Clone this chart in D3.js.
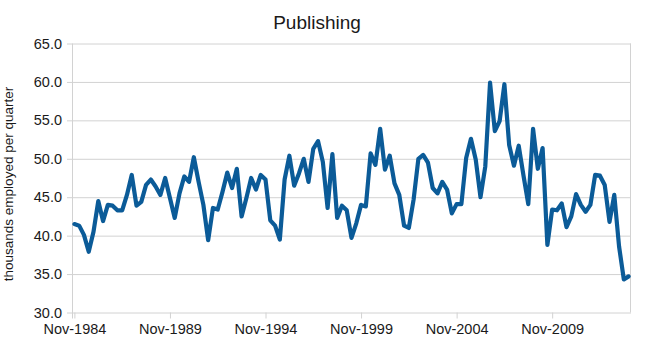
<!DOCTYPE html>
<html>
<head>
<meta charset="utf-8">
<script src="https://cdn.jsdelivr.net/npm/d3@7/dist/d3.min.js"></script>
<style>
  html, body { margin: 0; padding: 0; background: #ffffff; }
  svg { display: block; font-family: "Liberation Sans", Arial, sans-serif; }
</style>
</head>
<body>
<svg id="chart" width="650" height="355"></svg>
<script>
// ---- data (quarterly, starting Nov-1984) ----
const title = "Publishing";
const yAxisTitle = "thousands employed per quarter";
const values = [
  41.5, 41.3, 40.1, 37.9, 40.5, 44.5, 41.9, 44.0, 43.9, 43.3,
  43.3, 45.3, 47.9, 43.9, 44.4, 46.6, 47.3, 46.4, 45.3, 47.5,
  44.9, 42.3, 45.5, 47.7, 47.0, 50.2, 47.0, 44.0, 39.4, 43.6,
  43.4, 45.7, 48.2, 46.2, 48.7, 42.5, 44.9, 47.5, 46.0, 47.9,
  47.3, 42.0, 41.3, 39.5, 47.3, 50.4, 46.5, 48.1, 50.0, 47.0,
  51.3, 52.3, 49.6, 43.6, 50.6, 42.3, 43.9, 43.3, 39.7, 41.6,
  44.0, 43.8, 50.7, 49.2, 53.9, 48.6, 50.4, 46.8, 45.3, 41.3,
  41.0, 44.7, 50.0, 50.5, 49.5, 46.2, 45.5, 47.0, 46.0, 42.9,
  44.1, 44.1, 50.1, 52.6, 49.9, 45.0, 49.0, 59.9, 53.6, 54.9,
  59.7, 51.8, 49.1, 51.7, 47.8, 44.1, 53.9, 48.7, 51.4, 38.8,
  43.4, 43.3, 44.2, 41.1, 42.5, 45.4, 44.0, 43.1, 44.0, 47.9,
  47.8, 46.6, 41.8, 45.3, 38.6, 34.3, 34.7
];
const monthNames = ["Nov", "Feb", "May", "Aug"];
const categories = values.map((_, i) => {
  const q = i % 4;
  const yr = 1984 + Math.floor(i / 4) + (q === 0 ? 0 : 1);
  return monthNames[q] + "-" + yr;
});
const xTickLabels = ["Nov-1984", "Nov-1989", "Nov-1994", "Nov-1999", "Nov-2004", "Nov-2009"];
const yTicks = [30, 35, 40, 45, 50, 55, 60, 65];

// ---- layout ----
const svg = d3.select("#chart");
const plot = { left: 72, right: 631, top: 43.5, bottom: 312.5 };
const gridColor = "#d2d2d2";
const lineColor = "#0b5b98";
const textColor = "#1a1a1a";

const x = d3.scalePoint()
  .domain(categories)
  .range([plot.left, plot.right])
  .padding(0.5);

const y = d3.scaleLinear()
  .domain([30, 65])
  .range([plot.bottom, plot.top]);

// Title
svg.append("text")
  .attr("x", 317)
  .attr("y", 29)
  .attr("text-anchor", "middle")
  .attr("font-size", 19)
  .attr("fill", textColor)
  .text(title);

// Y axis with gridlines
const yAxis = svg.append("g")
  .attr("transform", `translate(${plot.left},0)`)
  .call(d3.axisLeft(y)
    .tickValues(yTicks)
    .tickFormat(d3.format(".1f"))
    .tickSize(-(plot.right - plot.left))
    .tickPadding(10));
yAxis.select(".domain").remove();
yAxis.selectAll(".tick line")
  .attr("stroke", gridColor)
  .attr("x1", -5);
yAxis.selectAll(".tick text")
  .attr("fill", textColor)
  .attr("font-size", 14.5)
  .attr("font-family", "Liberation Sans, Arial, sans-serif");

// left and right frame lines
svg.append("line")
  .attr("x1", plot.left + 0.5).attr("x2", plot.left + 0.5)
  .attr("y1", plot.top).attr("y2", plot.bottom + 6)
  .attr("stroke", gridColor);
svg.append("line")
  .attr("x1", plot.right - 0.5).attr("x2", plot.right - 0.5)
  .attr("y1", plot.top).attr("y2", plot.bottom)
  .attr("stroke", gridColor);

// X axis
const tickCats = xTickLabels.filter(l => categories.includes(l));
const xAxis = svg.append("g")
  .attr("transform", `translate(0,${plot.bottom})`)
  .call(d3.axisBottom(x)
    .tickValues(tickCats)
    .tickSize(6)
    .tickPadding(5));
xAxis.select(".domain").remove();
xAxis.selectAll(".tick line").attr("stroke", gridColor);
xAxis.selectAll(".tick text")
  .attr("fill", textColor)
  .attr("font-size", 14.5)
  .attr("font-family", "Liberation Sans, Arial, sans-serif");

// Y axis title
svg.append("text")
  .attr("transform", "translate(13,184) rotate(-90)")
  .attr("text-anchor", "middle")
  .attr("font-size", 13.5)
  .attr("fill", textColor)
  .text(yAxisTitle);

// Line
const line = d3.line()
  .x((d, i) => x(categories[i]))
  .y(d => y(d));

svg.append("path")
  .datum(values)
  .attr("fill", "none")
  .attr("stroke", lineColor)
  .attr("stroke-width", 4.2)
  .attr("stroke-linejoin", "round")
  .attr("stroke-linecap", "round")
  .attr("d", line);
</script>
</body>
</html>
